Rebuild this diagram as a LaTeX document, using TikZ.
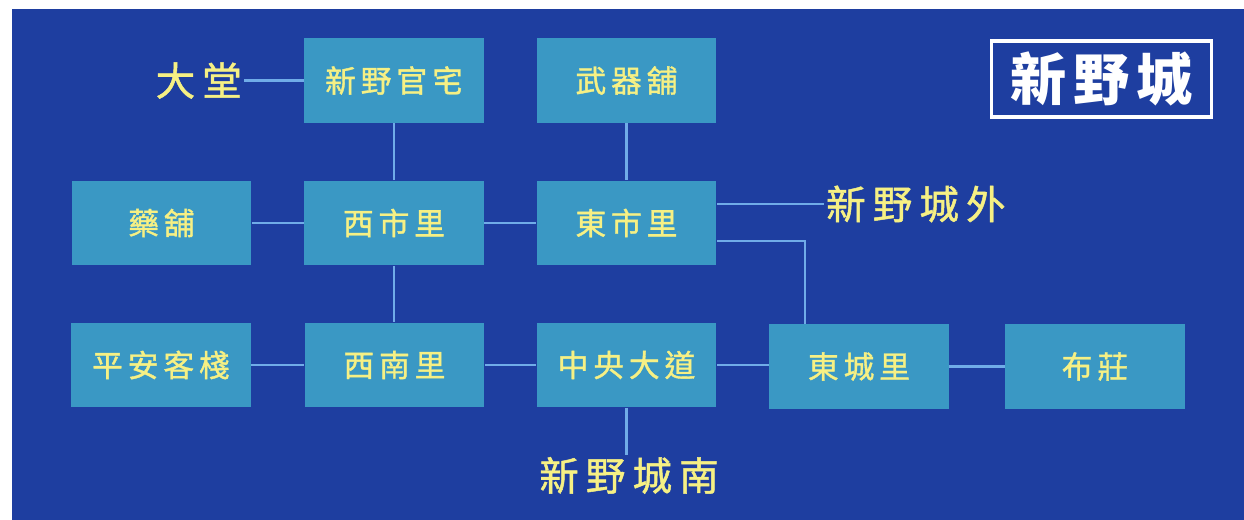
\documentclass[tikz,border=0pt]{standalone}
\usepackage{fontspec}
\newfontfamily\cjk{Noto Sans CJK TC}
\usepackage{tikz}
\usetikzlibrary{calc,positioning}

\begin{document}
\begin{tikzpicture}[x=0.02cm, y=-0.02cm,
  place/.style={fill=boxteal, minimum width=3.6cm, minimum height=1.7cm,
    inner sep=0pt, text=signyellow,
    font=\cjk\fontsize{17.5}{20}\selectfont\addfontfeatures{LetterSpace=16,FakeBold=1.2}},
  outtext/.style={inner sep=1pt, text=signyellow,
    font=\cjk\fontsize{22.5}{26}\selectfont\addfontfeatures{LetterSpace=18,FakeBold=1.2}},
  road/.style={roadblue, line width=1.6pt}]
% Map of Xinye town: shops and wards as teal blocks, joined by
% thin light-blue roads; exits out of town are plain yellow words.
\definecolor{bgblue}{RGB}{30, 62, 160}
\definecolor{boxteal}{RGB}{58, 152, 196}
\definecolor{roadblue}{RGB}{112, 172, 232}
\definecolor{signyellow}{RGB}{246, 240, 132}
\useasboundingbox (0,0) rectangle (1244,520);
\fill[white] (0,0) rectangle (1244,520);
\fill[bgblue] (12,9) rectangle (1244,520);
% top row
\node[place] (guanzhai) at (394,80.5) {新野官宅};
\node[place] (wuqi) at (626.5,80.5) {武器舖};
\node[outtext, anchor=east] (datang) at (244,80.5) {大堂};
\node[draw=white, line width=2.2pt, minimum width=4.4cm, minimum height=1.52cm,
  text=white, font=\cjk\bfseries\fontsize{32}{36}\selectfont\addfontfeatures{LetterSpace=12}]
  (title) at (1101.5,79) {新野城};
% middle row
\node[place] (yaopu) at (161.5,223) {藥舖};
\node[place] (xishi) at (394,223) {西市里};
\node[place] (dongshi) at (626.5,223) {東市里};
\node[outtext, anchor=west] (chengwai) at (824,204) {新野城外};
% bottom row
\node[place] (pingan) at (161,365) {平安客棧};
\node[place] (xinan) at (394.5,365) {西南里};
\node[place] (zhongyang) at (626.5,365) {中央大道};
\node[place] (dongcheng) at (859,366.5) {東城里};
\node[place] (buzhuang) at (1095,366.5) {布莊};
\node[outtext, anchor=north] (chengnan) at (629,455) {新野城南};
% roads
\draw[road] (datang) -- (guanzhai);
\draw[road] (guanzhai) -- (xishi);
\draw[road] (wuqi) -- (dongshi);
\draw[road] (yaopu) -- (xishi);
\draw[road] (xishi) -- (dongshi);
\draw[road] (xishi) -- (xinan.north -| xishi);
\draw[road] (dongshi.east |- chengwai.west) -- (chengwai.west);
\coordinate (bend) at (805,241);
\draw[road] (dongshi.east |- bend) -- (bend) -- (bend |- dongcheng.north);
\draw[road] (pingan) -- (xinan);
\draw[road] (xinan) -- (zhongyang);
\draw[road] (zhongyang.east) -- (zhongyang.east -| dongcheng.west);
\draw[road] (dongcheng) -- (buzhuang);
\draw[road] (zhongyang.south) -- (zhongyang.south |- chengnan.north);
\end{tikzpicture}
\end{document}
